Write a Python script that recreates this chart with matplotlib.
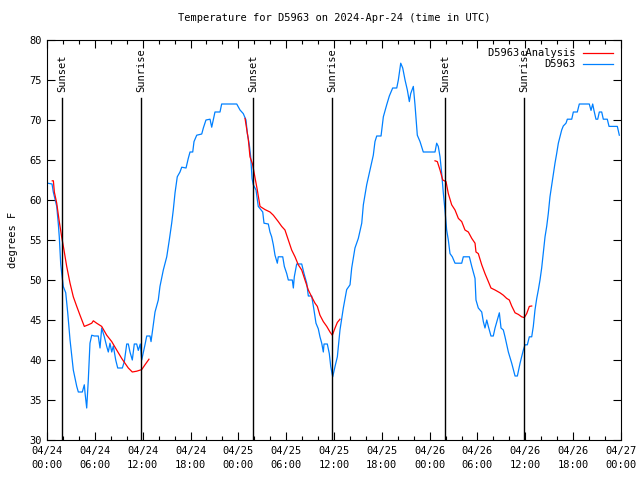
import numpy as np
import matplotlib
matplotlib.use("Agg")
import matplotlib.pyplot as plt

# ---- data (hours since 2024-04-24 00:00 UTC, degrees F) ----
obs_hours = [0.09, 0.63, 0.79, 1.22, 1.42, 1.54, 1.72, 1.84, 2.04, 2.35, 2.6, 2.89, 3.3, 3.73, 3.93,
             4.43, 4.68, 4.77, 4.98, 5.18, 5.39, 5.61, 5.93, 6.43, 6.65, 6.86, 7.19, 7.49, 7.69, 7.9,
             8.12, 8.32, 8.62, 8.87, 9.45, 9.7, 10.0, 10.2, 10.41, 10.7, 10.95, 11.25, 11.45, 11.7,
             11.88, 12.08, 12.29, 12.51, 12.92, 13.05, 13.33, 13.55, 13.96, 14.17, 14.59, 15.02,
             15.34, 15.64, 15.84, 16.06, 16.34, 16.68, 16.9, 17.44, 17.72, 17.94, 18.28, 18.44,
             18.78, 19.41, 19.61, 19.94, 20.45, 20.66, 20.86, 21.07, 21.7, 21.91, 23.8, 24.21,
             24.62, 24.96, 25.13, 25.38, 25.55, 25.72, 25.88, 26.22, 26.5, 27.06, 27.22, 27.76,
             27.97, 28.18, 28.39, 28.6, 28.89, 29.01, 29.57, 29.77, 30.07, 30.27, 30.77, 30.9,
             31.02, 31.32, 31.95, 32.24, 32.58, 32.78, 33.2, 33.49, 33.74, 34.03, 34.24, 34.46,
             34.66, 34.75, 35.16, 35.41, 35.59, 35.84, 36.13, 36.42, 36.75, 37.17, 37.59, 38.01,
             38.22, 38.63, 39.05, 39.48, 39.68, 40.1, 40.52, 40.93, 41.14, 41.36, 41.9, 42.19,
             42.61, 42.94, 43.36, 43.87, 44.07, 44.37, 44.62, 44.91, 45.2, 45.45, 45.62, 45.95,
             46.16, 46.45, 46.79, 47.2, 48.67, 48.88, 49.08, 49.3, 49.51, 49.71, 49.92, 50.13,
             50.34, 50.55, 50.84, 51.18, 52.02, 52.22, 52.98, 53.28, 53.69, 53.81, 54.1, 54.53,
             54.73, 54.94, 55.16, 55.36, 55.69, 55.98, 56.2, 56.48, 56.74, 56.95, 57.24, 57.45,
             57.87, 58.29, 58.71, 59.0, 59.34, 59.75, 59.96, 60.25, 60.5, 60.8, 61.0, 61.21,
             61.43, 61.63, 61.84, 62.05, 62.25, 62.47, 62.68, 62.88, 63.09, 63.31, 63.51, 63.72,
             63.93, 64.14, 64.35, 64.56, 64.76, 65.1, 65.27, 65.82, 66.02, 66.52, 66.77, 68.02,
             68.24, 68.45, 68.61, 68.86, 69.08, 69.28, 69.58, 69.78, 70.28, 70.5, 71.54, 71.79]
obs_temps = [62.1, 62, 61, 59.2, 57, 55.4, 52, 50.9, 49.2, 48.4, 45.9, 42.5, 38.75, 36.7, 36,
             36, 36.9, 35.9, 34, 37.5, 42.1, 43.1, 43, 43, 41.5, 44, 42.9, 41.7, 41, 42.1,
             41, 41.75, 40, 39, 39, 39.8, 42, 42, 41, 40, 42, 42, 41.2, 42,
             40, 40.9, 41.9, 43, 43, 42.3, 44.4, 46, 47.5, 49.2, 51.25, 52.9,
             55, 57.1, 58.75, 60.9, 62.9, 63.5, 64.1, 64, 65.2, 66, 66, 67.3,
             68.1, 68.25, 69, 70, 70.1, 69.1, 70, 71, 71, 72, 72, 71.25,
             70.8, 70, 68.3, 66.9, 65.4, 62.7, 61.9, 61.25, 59.2, 58.5, 57.1, 57,
             56, 55.4, 54.4, 53.1, 52.1, 52.9, 52.9, 51.7, 50.8, 50, 50, 49,
             50.4, 52, 52, 50.8, 49.6, 48, 48, 46.25, 44.6, 43.9, 42.9, 42.1,
             41, 42, 42, 40.8, 39.2, 37.9, 39.2, 40.4, 43.75, 46.5, 48.8, 49.4,
             51.5, 54, 55.2, 57.1, 59.4, 61.9, 63.75, 65.6, 67.3, 68, 68, 70.4,
             71.9, 73, 74, 74, 75, 77.1, 76.5, 75, 73.75, 72.3, 73.3, 74.2,
             71.9, 68.1, 67.3, 66, 66, 67.1, 66.7, 65.4, 63.3, 60.9, 58.75, 56.25,
             55, 53.3, 52.9, 52.1, 52.1, 52.9, 52.9, 51.7, 50.2, 47.5, 46.5, 46,
             44.8, 44, 45, 44.2, 43, 43, 44, 45, 45.9, 44, 43.75, 42.9,
             41, 39.6, 38, 38, 39.6, 41.25, 41.9, 41.9, 42.9, 42.9, 44.2, 46.25,
             47.7, 48.75, 50, 51.5, 53.3, 55.4, 56.7, 58.3, 60.4, 61.9, 63.3, 64.6,
             65.8, 67.1, 67.9, 68.75, 69.25, 69.6, 70.1, 70.1, 71, 71, 72, 72,
             71.2, 72, 71.2, 70.1, 70.1, 71, 71, 70.1, 70.1, 69.2, 69.2, 68.1]

ana_hours = [0.66, 0.8, 0.92, 1.22, 1.51, 1.84, 2.13, 2.47, 2.89, 3.3, 3.73, 4.14, 4.68, 5.18,
             5.61, 5.81, 6.23, 6.86, 7.49, 8.12, 8.74, 9.37, 9.78, 10.2, 10.7, 11.25, 11.88,
             12.29, 12.79, np.nan,
             24.84, 25.25, 25.46, 25.78, 26.09, 26.38, 26.72, 27.35, 27.97, 28.39, 29.01, 29.44,
             29.85, 30.27, 30.69, 31.11, 31.52, 31.95, 32.36, 32.78, 33.2, 33.62, 33.91, 34.24,
             34.66, 35.09, 35.5, 35.79, 36.13, 36.42, 36.75, np.nan,
             48.67, 48.96, 49.3, 49.64, 50.05, 50.34, 50.76, 51.18, 51.6, 52.02, 52.43, 52.85,
             53.28, 53.69, 53.81, 54.1, 54.53, 54.94, 55.36, 55.69, 56.2, 56.82, 57.24, 57.66,
             57.99, 58.29, 58.71, 59.12, 59.54, 59.87, 60.17, 60.5, 60.8]
ana_temps = [62.4, 62.4, 61, 59.6, 57.5, 55.4, 53.75, 51.7, 49.6, 47.9, 46.7, 45.6, 44.2, 44.4,
             44.6, 44.9, 44.6, 44.2, 43.1, 42.3, 41.25, 40.2, 39.6, 39, 38.5, 38.6, 38.8,
             39.4, 40.1, np.nan,
             70.2, 67.6, 65.4, 64.5, 62.8, 61.25, 59.2, 58.8, 58.5, 58.1, 57.3, 56.7,
             56.25, 55, 53.75, 52.9, 51.9, 51.25, 50, 48.75, 47.9, 47.1, 46.7, 45.6,
             44.8, 44.2, 43.5, 43.1, 44, 44.7, 45.1, np.nan,
             64.9, 64.8, 63.75, 62.5, 62.3, 60.8, 59.4, 58.75, 57.7, 57.3, 56.25, 56,
             55.2, 54.6, 53.5, 53.3, 51.9, 50.8, 49.8, 49, 48.75, 48.4, 48.1, 47.7,
             47.5, 46.75, 45.9, 45.7, 45.4, 45.3, 45.8, 46.7, 46.75]

sun_hours = [1.88, 11.8, 25.85, 35.76, 49.9, 59.85]
sun_labels = ["Sunset", "Sunrise", "Sunset", "Sunrise", "Sunset", "Sunrise"]

xtick_hours = [0, 6, 12, 18, 24, 30, 36, 42, 48, 54, 60, 66, 72]
xtick_labels = ["04/24\n00:00", "04/24\n06:00", "04/24\n12:00", "04/24\n18:00",
                "04/25\n00:00", "04/25\n06:00", "04/25\n12:00", "04/25\n18:00",
                "04/26\n00:00", "04/26\n06:00", "04/26\n12:00", "04/26\n18:00",
                "04/27\n00:00"]
ytick_vals = [30, 35, 40, 45, 50, 55, 60, 65, 70, 75, 80]

plt.rcParams['font.family'] = ['DejaVu Sans Mono']
FS = 7.5

fig = plt.figure(figsize=(6.4, 4.8), dpi=100)
ax = fig.add_axes([47/640, 40/480, 574/640, 400/480])

ax.plot(ana_hours, ana_temps, color='#ff0000', lw=0.9, label='D5963 Analysis', zorder=3)
ax.plot(obs_hours, obs_temps, color='#0080ff', lw=0.9, label='D5963', zorder=2)

for h, lab in zip(sun_hours, sun_labels):
    ax.plot([h, h], [30, 72.75], color='black', lw=1.0, zorder=4)
    ax.text(h, 73.5, lab, rotation=90, ha='center', va='bottom', fontsize=FS, zorder=5)

ax.set_xlim(0, 72)
ax.set_ylim(30, 80)
ax.set_xticks(xtick_hours)
ax.set_xticklabels(xtick_labels, fontsize=FS, linespacing=1.6)
ax.set_xticks(np.arange(0, 73, 2), minor=True)
ax.set_yticks(ytick_vals)
ax.set_yticklabels([str(v) for v in ytick_vals], fontsize=FS)
ax.tick_params(which='both', direction='in', top=True, right=True, width=0.8)
ax.tick_params(which='major', length=6, pad=4)
ax.tick_params(which='minor', length=3)
for s in ax.spines.values():
    s.set_linewidth(0.8)

ax.set_ylabel('degrees F', fontsize=FS, labelpad=8)
ax.set_title('Temperature for D5963 on 2024-Apr-24 (time in UTC)', fontsize=FS, pad=14)

leg = ax.legend(loc='upper right', frameon=False, fontsize=FS, markerfirst=False,
                handlelength=2.8, borderaxespad=0.5, borderpad=0.3,
                handletextpad=0.8, labelspacing=0.1)

fig.savefig('out.png', dpi=100)
